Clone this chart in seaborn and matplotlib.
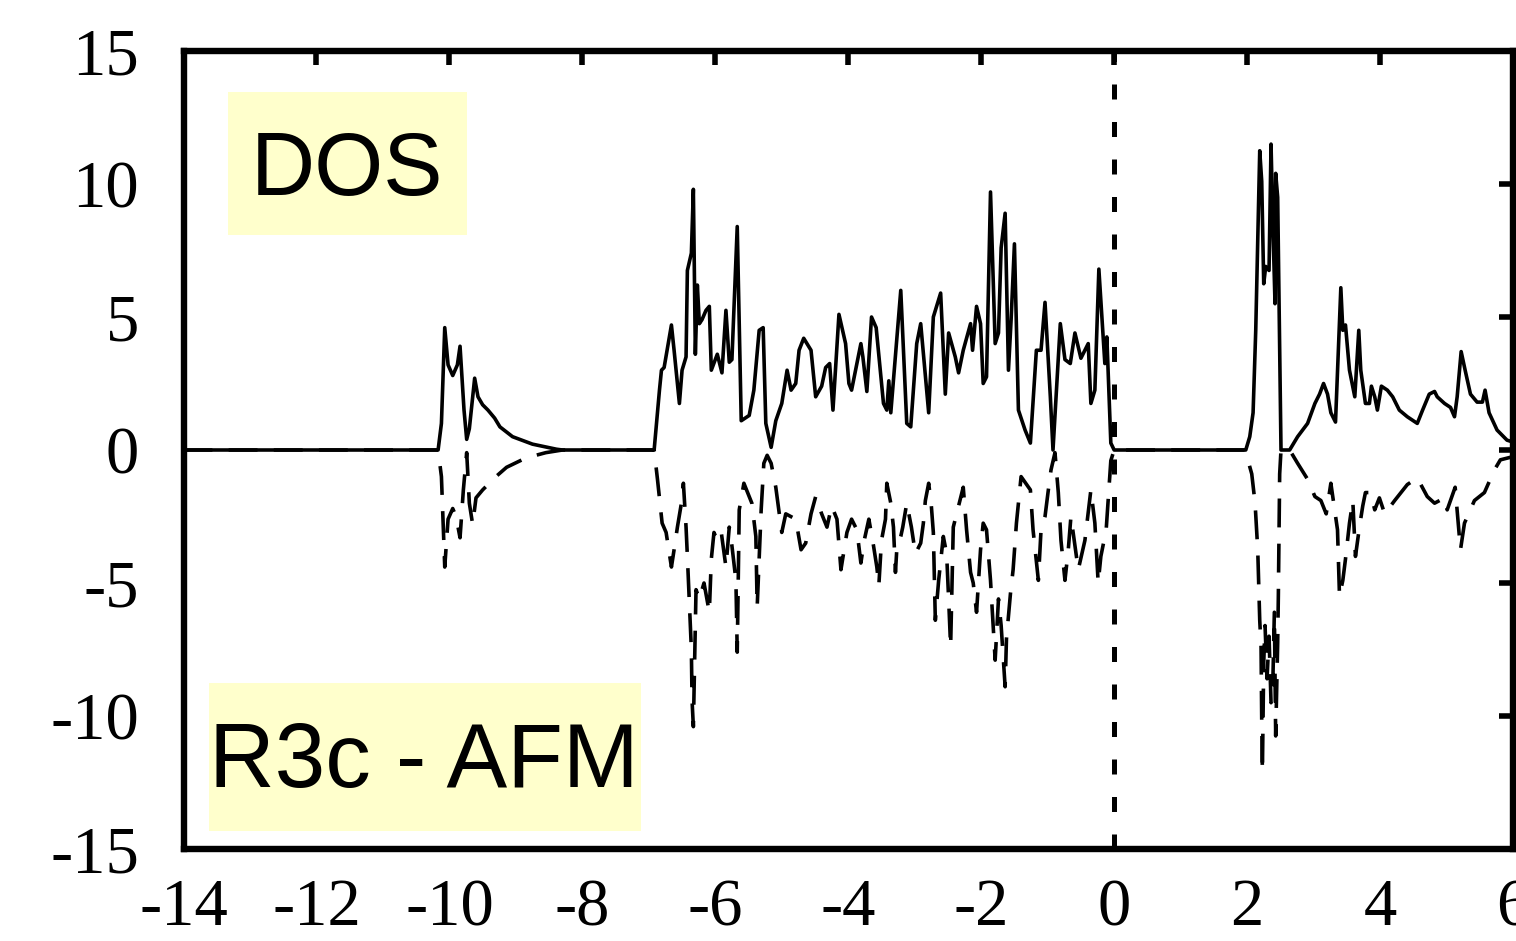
import matplotlib
matplotlib.use("Agg")
import matplotlib.pyplot as plt
import pandas as pd
import seaborn as sns
from matplotlib.patches import Rectangle

# Spin-up density of states (states/eV) versus energy (eV)
energy_up = [-14.0, -10.17, -10.12, -10.07, -10.02, -9.95, -9.88, -9.84, -9.78, -9.74,
             -9.70, -9.62, -9.57, -9.50, -9.42, -9.32, -9.24, -9.05, -8.75, -8.39,
             -8.30, -6.92, -6.84, -6.81, -6.77, -6.66, -6.62, -6.54, -6.50, -6.44,
             -6.42, -6.36, -6.33, -6.30, -6.27, -6.24, -6.20, -6.14, -6.09, -6.06,
             -5.97, -5.90, -5.84, -5.79, -5.75, -5.67, -5.61, -5.49, -5.42, -5.34,
             -5.28, -5.24, -5.16, -5.09, -5.00, -4.92, -4.86, -4.79, -4.74, -4.67,
             -4.56, -4.49, -4.40, -4.34, -4.28, -4.23, -4.14, -4.04, -3.99, -3.95,
             -3.87, -3.81, -3.78, -3.72, -3.65, -3.58, -3.47, -3.42, -3.39, -3.36,
             -3.21, -3.12, -3.06, -2.97, -2.91, -2.79, -2.72, -2.61, -2.54, -2.49,
             -2.39, -2.34, -2.27, -2.16, -2.13, -2.07, -2.01, -1.97, -1.92, -1.86,
             -1.79, -1.74, -1.70, -1.64, -1.59, -1.55, -1.50, -1.47, -1.44, -1.34,
             -1.26, -1.17, -1.10, -1.04, -0.96, -0.92, -0.81, -0.74, -0.66, -0.59,
             -0.50, -0.39, -0.35, -0.29, -0.23, -0.14, -0.11, -0.05, 0.0, 1.98,
             2.04, 2.09, 2.13, 2.19, 2.22, 2.25, 2.28, 2.33, 2.36, 2.39,
             2.42, 2.43, 2.46, 2.51, 2.64, 2.76, 2.91, 3.02, 3.09, 3.15,
             3.21, 3.26, 3.33, 3.41, 3.44, 3.48, 3.54, 3.62, 3.68, 3.71,
             3.78, 3.84, 3.87, 3.92, 3.96, 4.02, 4.11, 4.19, 4.29, 4.41,
             4.56, 4.64, 4.74, 4.82, 4.86, 4.97, 5.06, 5.12, 5.16, 5.22,
             5.28, 5.36, 5.46, 5.54, 5.58, 5.64, 5.76, 5.91, 6.00]
dos_up = [0.0, 0.0, 1.0, 4.6, 3.2, 2.8, 3.2, 3.9, 1.5, 0.4,
          0.8, 2.7, 2.0, 1.7, 1.5, 1.2, 0.87, 0.5, 0.22, 0.03,
          0.0, 0.0, 2.25, 3.0, 3.1, 4.7, 3.75, 1.75, 3.0, 3.5,
          6.75, 7.4, 9.8, 3.6, 6.2, 4.75, 4.9, 5.25, 5.4, 3.0,
          3.6, 2.9, 5.25, 3.3, 3.4, 8.4, 1.1, 1.3, 2.25, 4.5,
          4.6, 1.0, 0.1, 1.1, 1.75, 3.0, 2.25, 2.5, 3.75, 4.2,
          3.75, 2.0, 2.4, 3.1, 3.25, 1.5, 5.1, 4.0, 2.5, 2.25,
          3.25, 4.0, 3.5, 2.2, 5.0, 4.6, 1.75, 1.5, 2.6, 1.4,
          6.0, 1.0, 0.87, 4.0, 4.75, 1.4, 5.0, 5.9, 2.1, 4.4,
          3.5, 2.9, 3.75, 4.75, 3.75, 5.4, 4.75, 2.5, 2.75, 9.7,
          4.0, 4.4, 7.6, 8.9, 3.0, 4.9, 7.75, 4.6, 1.5, 0.75,
          0.26, 3.75, 3.75, 5.55, 2.0, 0.0, 4.75, 3.4, 3.25, 4.4,
          3.45, 4.0, 1.75, 2.25, 6.8, 3.25, 4.25, 0.26, 0.0, 0.0,
          0.5, 1.4, 4.5, 11.25, 10.1, 6.25, 6.9, 6.75, 11.5, 8.25,
          5.5, 10.4, 9.5, 0.0, 0.0, 0.5, 1.0, 1.75, 2.1, 2.5,
          2.1, 1.4, 1.05, 6.1, 4.5, 4.7, 3.0, 2.0, 4.5, 3.0,
          1.75, 1.75, 2.4, 2.0, 1.5, 2.4, 2.25, 2.0, 1.5, 1.25,
          1.0, 1.5, 2.1, 2.2, 2.0, 1.75, 1.6, 1.25, 2.0, 3.7,
          3.0, 2.1, 1.8, 1.8, 2.25, 1.4, 0.75, 0.37, 0.3]

# Spin-down density of states, drawn as negative values
energy_dn = [-14.0, -10.17, -10.12, -10.07, -10.02, -9.95, -9.90, -9.84, -9.79, -9.74,
             -9.70, -9.65, -9.60, -9.50, -9.40, -9.30, -9.14, -8.85, -8.55, -8.30,
             -6.92, -6.87, -6.84, -6.80, -6.74, -6.66, -6.62, -6.57, -6.51, -6.48,
             -6.44, -6.42, -6.39, -6.36, -6.35, -6.33, -6.29, -6.24, -6.17, -6.09,
             -6.06, -6.02, -5.97, -5.91, -5.84, -5.79, -5.75, -5.69, -5.67, -5.64,
             -5.57, -5.45, -5.39, -5.37, -5.31, -5.27, -5.22, -5.16, -5.09, -5.00,
             -4.94, -4.79, -4.71, -4.64, -4.56, -4.49, -4.40, -4.32, -4.25, -4.17,
             -4.11, -4.02, -3.95, -3.87, -3.81, -3.76, -3.69, -3.62, -3.57, -3.54,
             -3.50, -3.44, -3.42, -3.36, -3.32, -3.29, -3.27, -3.21, -3.18, -3.12,
             -3.05, -2.99, -2.91, -2.87, -2.84, -2.79, -2.75, -2.72, -2.69, -2.64,
             -2.57, -2.52, -2.49, -2.46, -2.42, -2.37, -2.27, -2.22, -2.16, -2.12,
             -2.07, -2.01, -1.97, -1.92, -1.86, -1.82, -1.79, -1.74, -1.70, -1.64,
             -1.62, -1.56, -1.52, -1.47, -1.40, -1.26, -1.22, -1.14, -1.10, -1.04,
             -0.99, -0.95, -0.89, -0.84, -0.80, -0.74, -0.69, -0.65, -0.54, -0.44,
             -0.35, -0.29, -0.24, -0.20, -0.12, -0.05, 0.0, 1.97, 2.07, 2.12,
             2.16, 2.18, 2.19, 2.21, 2.22, 2.23, 2.25, 2.27, 2.30, 2.33,
             2.36, 2.39, 2.41, 2.43, 2.46, 2.47, 2.49, 2.51, 2.64, 2.76,
             2.91, 3.02, 3.11, 3.19, 3.26, 3.32, 3.36, 3.39, 3.44, 3.48,
             3.54, 3.59, 3.63, 3.69, 3.74, 3.78, 3.86, 3.92, 3.99, 4.07,
             4.22, 4.41, 4.56, 4.71, 4.82, 4.97, 5.01, 5.13, 5.21, 5.27,
             5.42, 5.57, 5.72, 5.81, 6.00]
dos_dn = [0.0, 0.0, -1.0, -4.4, -2.6, -2.2, -2.5, -3.3, -1.5, -0.1,
          -2.0, -2.8, -1.8, -1.5, -1.25, -1.0, -0.65, -0.3, -0.1, 0.0,
          0.0, -1.1, -1.8, -2.75, -3.1, -4.4, -3.75, -2.9, -2.0, -1.25,
          -2.9, -4.0, -5.75, -7.5, -9.4, -10.4, -5.25, -5.6, -5.0, -6.1,
          -4.1, -3.1, -3.4, -3.1, -4.4, -2.9, -3.6, -4.9, -7.6, -2.25,
          -1.25, -2.0, -3.25, -5.9, -2.25, -0.5, -0.2, -0.5, -1.4, -3.1,
          -2.4, -2.6, -3.75, -3.5, -2.4, -1.75, -2.4, -2.9, -2.1, -2.6,
          -4.5, -3.1, -2.6, -3.0, -4.25, -3.4, -2.6, -3.6, -4.4, -5.1,
          -3.4, -2.6, -1.25, -2.0, -2.9, -4.6, -3.75, -3.25, -2.9, -2.0,
          -2.9, -3.9, -3.5, -2.75, -1.9, -1.25, -2.1, -3.1, -6.4, -4.9,
          -3.25, -3.9, -5.6, -7.4, -2.9, -2.4, -1.4, -3.0, -4.6, -5.0,
          -6.1, -3.75, -2.75, -3.0, -4.9, -6.6, -7.9, -5.6, -6.6, -8.9,
          -7.1, -5.4, -4.5, -2.75, -1.0, -1.5, -3.0, -4.9, -3.0, -2.5,
          -1.5, -0.75, -0.1, -1.6, -3.4, -4.9, -3.75, -2.5, -4.5, -3.4,
          -1.5, -2.75, -5.0, -4.0, -3.0, -0.4, 0.0, 0.0, -0.9, -2.0,
          -3.75, -5.5, -6.4, -7.4, -10.2, -12.1, -8.0, -6.6, -8.6, -7.0,
          -9.5, -8.4, -6.1, -10.75, -7.25, -5.5, -0.9, 0.0, 0.0, -0.5,
          -1.1, -1.75, -1.9, -2.4, -1.25, -2.3, -3.0, -5.5, -4.9, -4.1,
          -2.75, -1.9, -4.0, -2.9, -2.1, -1.6, -1.6, -2.25, -1.8, -2.4,
          -1.9, -1.3, -1.05, -1.75, -2.0, -1.8, -2.25, -1.4, -3.75, -2.75,
          -1.9, -1.6, -0.75, -0.37, -0.25]

x_ticks = [-14, -12, -10, -8, -6, -4, -2, 0, 2, 4, 6]
y_ticks = [-15, -10, -5, 0, 5, 10, 15]
label_top = "DOS"
label_bottom = "R3c - AFM"

sns.set_style("white")
plt.rcParams["axes.unicode_minus"] = False

W, H = 1516, 941
fig = plt.figure(figsize=(W / 100, H / 100), dpi=100)
ax = fig.add_axes([183.5 / W, 1 - 849 / H, (1513 - 183.5) / W, (849 - 51) / H])
ax.set_facecolor("white")

up = pd.DataFrame({"Energy": energy_up, "DOS": dos_up})
dn = pd.DataFrame({"Energy": energy_dn, "DOS": dos_dn})

sns.lineplot(data=dn, x="Energy", y="DOS", ax=ax, color="black", lw=2.6,
             estimator=None, sort=False)
ax.lines[-1].set_linestyle((0, (8, 4.5)))
sns.lineplot(data=up, x="Energy", y="DOS", ax=ax, color="black", lw=2.6,
             estimator=None, sort=False)

# Fermi level
ax.axvline(0, color="black", lw=3.6, linestyle=(0, (3, 4.5)), zorder=1)

ax.set_xlim(-14, 6)
ax.set_ylim(-15, 15)
ax.set_xticks(x_ticks)
ax.set_yticks(y_ticks)
ax.set_xlabel("")
ax.set_ylabel("")
ax.grid(False)

ax.tick_params(direction="in", length=10, width=4, top=True, right=True,
               labelsize=48, color="black", labelcolor="black")
ax.tick_params(axis="x", pad=21)
ax.tick_params(axis="y", pad=32)
for lab in ax.get_xticklabels() + ax.get_yticklabels():
    lab.set_family("Liberation Serif")

for sp in ax.spines.values():
    sp.set_visible(True)
    sp.set_linewidth(4.6)
    sp.set_color("black")

box_color = "#FFFFCC"
ax.add_patch(Rectangle((-13.33, 8.08), 3.59, 5.38, facecolor=box_color,
                       edgecolor="none", zorder=3))
ax.text(-11.54, 9.59, label_top, ha="center", va="baseline", fontsize=64,
        family="Liberation Sans", color="black", zorder=4)
ax.add_patch(Rectangle((-13.62, -14.32), 6.50, 5.56, facecolor=box_color,
                       edgecolor="none", zorder=3))
ax.text(-10.39, -12.67, label_bottom, ha="center", va="baseline", fontsize=65.5,
        family="Liberation Sans", color="black", zorder=4)

fig.savefig("out.png", dpi=100)
